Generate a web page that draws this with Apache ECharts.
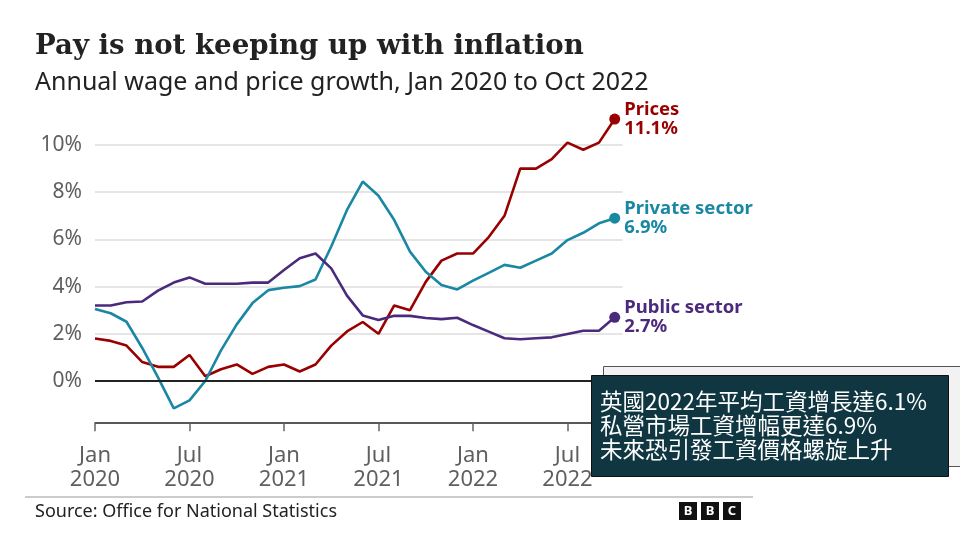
<!DOCTYPE html>
<html>
<head>
<meta charset="utf-8">
<script src="https://cdn.jsdelivr.net/npm/echarts@6/dist/echarts.min.js"></script>
<style>
html,body{margin:0;padding:0;background:#fff;}
#chart{width:960px;height:540px;}
</style>
</head>
<body>
<div id="chart"></div>
<script>
// Months Jan 2020 .. Oct 2022 (index 0..33)
const months = ['Jan 2020','Feb 2020','Mar 2020','Apr 2020','May 2020','Jun 2020','Jul 2020','Aug 2020','Sep 2020','Oct 2020','Nov 2020','Dec 2020',
  'Jan 2021','Feb 2021','Mar 2021','Apr 2021','May 2021','Jun 2021','Jul 2021','Aug 2021','Sep 2021','Oct 2021','Nov 2021','Dec 2021',
  'Jan 2022','Feb 2022','Mar 2022','Apr 2022','May 2022','Jun 2022','Jul 2022','Aug 2022','Sep 2022','Oct 2022'];
const prices = [1.8,1.7,1.5,0.8,0.6,0.6,1.1,0.2,0.5,0.7,0.3,0.6,
  0.7,0.4,0.7,1.5,2.1,2.5,2.0,3.2,3.0,4.2,5.1,5.4,
  5.4,6.1,7.0,9.0,9.0,9.4,10.1,9.8,10.1,11.1];
const privateSector = [3.05,2.87,2.51,1.4,0.15,-1.16,-0.82,0.0,1.3,2.4,3.3,3.85,
  3.95,4.02,4.3,5.7,7.25,8.45,7.85,6.82,5.48,4.63,4.07,3.88,
  4.25,4.58,4.92,4.8,5.1,5.4,5.97,6.28,6.68,6.9];
const publicSector = [3.2,3.2,3.34,3.37,3.83,4.17,4.39,4.12,4.12,4.12,4.17,4.17,
  4.7,5.2,5.4,4.77,3.62,2.78,2.58,2.76,2.76,2.67,2.62,2.68,
  2.37,2.09,1.81,1.77,1.81,1.85,1.99,2.13,2.13,2.7];
const xTickLabels = {0:'Jan\n2020',6:'Jul\n2020',12:'Jan\n2021',18:'Jul\n2021',24:'Jan\n2022',30:'Jul\n2022'};
const seriesNames = ['Prices','Private sector','Public sector'];
const endLabels = ['11.1%','6.9%','2.7%'];
const yTicks = [0,2,4,6,8,10];

const colors = ['#990000','#1a87a3','#4b2a7d'];
const allData = [prices, privateSector, publicSector];

const chart = echarts.init(document.getElementById('chart'), null, {renderer:'canvas'});
const lineSeries = allData.map((arr, k) => ({
  type:'line', name:seriesNames[k], data:arr.map((v,i)=>[i,v]),
  showSymbol:false, symbol:'none', lineStyle:{color:colors[k], width:2.6}, z:3+k, silent:true,
  markLine: k===0 ? {silent:true, symbol:'none', label:{show:false}, lineStyle:{color:'#222', width:2, type:'solid'}, data:[{yAxis:0}]} : undefined
}));
const endSeries = allData.map((arr, k) => ({
  type:'scatter', data:[[arr.length-1, arr[arr.length-1]]], symbol:'circle', symbolSize:11,
  itemStyle:{color:colors[k], opacity:1}, z:10, silent:true,
  label:{show:true, position:'right', distance:4, color:colors[k], opacity:1, fontFamily:'Noto Sans', fontWeight:'bold', fontSize:18.5, lineHeight:19,
    formatter: () => seriesNames[k] + '\n' + endLabels[k]}
}));

chart.setOption({
  animation:false,
  backgroundColor:'#ffffff',
  textStyle:{fontFamily:'Noto Sans'},
  grid:{left:95, top:97.8, width:527.6, height:330.4},
  xAxis:{type:'value', min:0, max:33.5, interval:6, offset:-5,
    axisLine:{show:true, onZero:false, lineStyle:{color:'#222', width:1.5}},
    axisTick:{show:true, length:8, lineStyle:{color:'#666', width:1.5}},
    splitLine:{show:false},
    axisLabel:{color:'#5f5f5f', fontSize:22, lineHeight:24, margin:21, fontFamily:'Noto Sans',
      formatter:(v)=> xTickLabels[v] || ''}
  },
  yAxis:{type:'value', min:-2, max:12, interval:2,
    axisLine:{show:false}, axisTick:{show:false},
    splitLine:{show:true, showMinLine:false, showMaxLine:false, lineStyle:{color:'#dcdcdc', width:1.5}},
    axisLabel:{color:'#5f5f5f', fontSize:21, margin:13, fontFamily:'Noto Sans',
      formatter:(v)=> yTicks.indexOf(v) >= 0 ? v + '%' : ''}
  },
  series: lineSeries.concat(endSeries),
  graphic:[
    {type:'text', left:35, top:33, z:100, style:{text:'Pay is not keeping up with inflation', font:'bold 27.6px "DejaVu Serif"', fill:'#222'}},
    {type:'text', left:35, top:70, z:100, style:{text:'Annual wage and price growth, Jan 2020 to Oct 2022', font:'25px "Noto Sans"', fill:'#222'}},
    {type:'line', z:100, shape:{x1:25, y1:497, x2:753, y2:497}, style:{stroke:'#999', lineWidth:1.2}},
    {type:'text', left:35, top:503, z:100, style:{text:'Source: Office for National Statistics', font:'18px "Noto Sans"', fill:'#222'}},
    {type:'rect', z:100, shape:{x:679, y:502, width:18, height:18}, style:{fill:'#111'}},
    {type:'rect', z:100, shape:{x:701, y:502, width:18, height:18}, style:{fill:'#111'}},
    {type:'rect', z:100, shape:{x:723, y:502, width:18, height:18}, style:{fill:'#111'}},
    {type:'text', z:101, x:688, y:511, style:{text:'B', font:'bold 13px "Noto Sans"', fill:'#fff', align:'center', verticalAlign:'middle'}},
    {type:'text', z:101, x:710, y:511, style:{text:'B', font:'bold 13px "Noto Sans"', fill:'#fff', align:'center', verticalAlign:'middle'}},
    {type:'text', z:101, x:732, y:511, style:{text:'C', font:'bold 13px "Noto Sans"', fill:'#fff', align:'center', verticalAlign:'middle'}},
    {type:'rect', z:110, shape:{x:603.5, y:366.5, width:370, height:100}, style:{fill:'#f2f2f2', stroke:'#555', lineWidth:1}},
    {type:'rect', z:111, shape:{x:591.5, y:375.5, width:357, height:101}, style:{fill:'#0f3641', stroke:'#111', lineWidth:1}},
    {type:'text', z:112, left:600, top:389, style:{text:'英國2022年平均工資增長達6.1%\n私營市場工資增幅更達6.9%\n未來恐引發工資價格螺旋上升', font:'22.5px "Noto Sans CJK TC"', lineHeight:24, fill:'#ffffff'}}
  ]
});
</script>
</body>
</html>
